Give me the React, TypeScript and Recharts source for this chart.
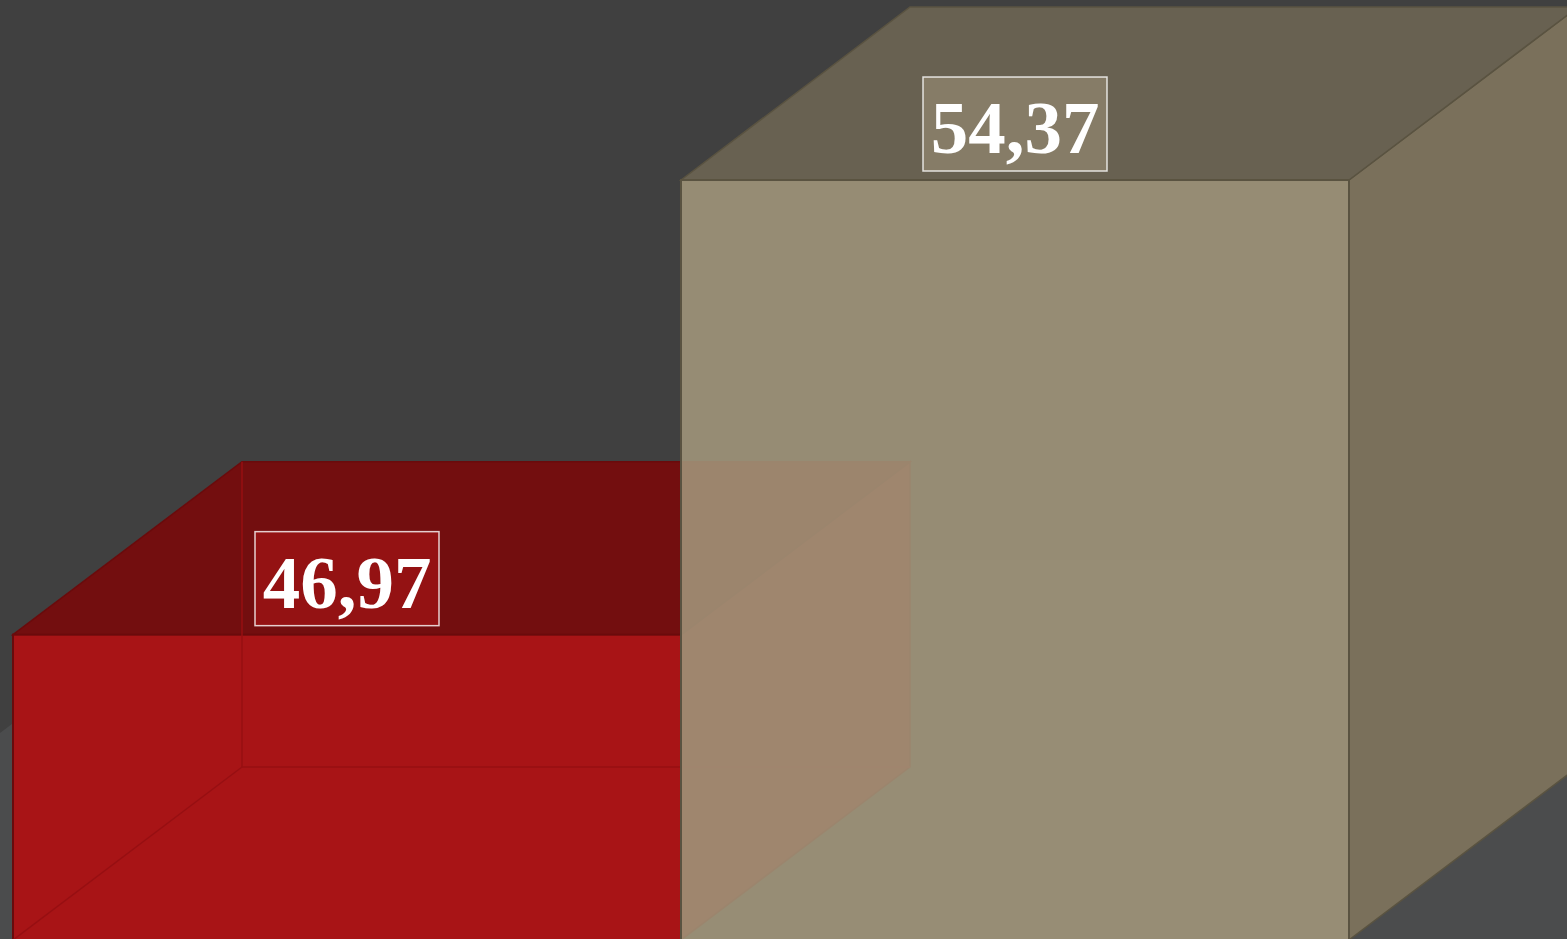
import { BarChart, Bar, XAxis, YAxis, LabelList } from "recharts";

// values
const categories = ["A", "B"];
const values = [46.97, 54.37];
const yDomain = [42, 57.3];

const data = categories.map((name, i) => ({ name, value: values[i] }));

const W = 1567;
const H = 939;
const DEPTH_X = 229;
const DEPTH_Y = -173;

const faces = [
    {
        front: "#a81416",
        top: "#730e0f",
        side: "#8c1012",
        edge: "#6a0b0c",
        hidden: "#970f12",
        frontOpacity: 1,
        label: "#a81416",
    },
    {
        front: "#a2967b",
        top: "#686151",
        side: "#7a705b",
        edge: "#5a5341",
        hidden: null,
        frontOpacity: 0.88,
        label: "#978c74",
    },
];

const Box3D = (props: any) => {
    const { x, y, width: w, height: h, index = 0 } = props;
    const f = faces[index % faces.length];
    const top = `${x},${y} ${x + DEPTH_X},${y + DEPTH_Y} ${x + w + DEPTH_X},${y + DEPTH_Y} ${x + w},${y}`;
    const side = `${x + w},${y} ${x + w + DEPTH_X},${y + DEPTH_Y} ${x + w + DEPTH_X},${y + h + DEPTH_Y} ${x + w},${y + h}`;
    const bx = x + DEPTH_X;
    const by = y + h + DEPTH_Y;

    return (
        <g>
            <polygon points={side} fill={f.side} stroke={f.edge} strokeWidth={1.5} />
            <polygon points={top} fill={f.top} stroke={f.edge} strokeWidth={1.5} />
            <rect
                x={x}
                y={y}
                width={w}
                height={h}
                fill={f.front}
                fillOpacity={f.frontOpacity}
                stroke={f.edge}
                strokeWidth={2}
            />
            {f.hidden && (
                <g stroke={f.hidden} strokeWidth={1.5} fill="none">
                    <line x1={bx} y1={y + DEPTH_Y} x2={bx} y2={by} />
                    <line x1={bx} y1={by} x2={bx + w} y2={by} />
                    <line x1={bx} y1={by} x2={x} y2={y + h} />
                </g>
            )}
        </g>
    );
};

const BoxLabel = (props: any) => {
    const { x, y, width, value, index = 0 } = props;
    const f = faces[index % faces.length];
    const cx = x + width / 2;
    const text = Number(value).toFixed(2).replace(".", ",");
    const boxW = 184;
    const boxH = 94;
    const bottom = y - 9;

    return (
        <g>
            <rect
                x={cx - boxW / 2}
                y={bottom - boxH}
                width={boxW}
                height={boxH}
                fill={f.label}
                fillOpacity={0.64}
                stroke="rgba(255,255,255,0.8)"
                strokeWidth={1.5}
            />
            <text
                x={cx}
                y={bottom - 18}
                textAnchor="middle"
                fill="#ffffff"
                fontFamily='"Liberation Serif", "Times New Roman", serif'
                fontWeight="bold"
                fontSize={75}
            >
                {text}
            </text>
        </g>
    );
};

export default function App() {
    return (
        <div
            style={{
                position: "fixed",
                left: 0,
                top: 0,
                width: W,
                height: H,
                overflow: "hidden",
                background: "#404040",
            }}
        >
            {/* floor plane */}
            <svg
                width={W}
                height={H}
                style={{ position: "absolute", left: 0, top: 0 }}
            >
                <polygon
                    points={`-400,1035 229,560 2000,560 2000,1035`}
                    fill="#4b4c4d"
                />
            </svg>
            <div style={{ position: "absolute", left: 0, top: 0 }}>
                <BarChart
                    width={W}
                    height={940}
                    data={data}
                    margin={{ top: 0, right: 218, bottom: 0, left: 13 }}
                    barCategoryGap={0}
                >
                    <XAxis dataKey="name" hide />
                    <YAxis type="number" domain={yDomain} hide />
                    <Bar
                        dataKey="value"
                        isAnimationActive={false}
                        shape={(p: any) => <Box3D {...p} />}
                    >
                        <LabelList dataKey="value" content={(p: any) => <BoxLabel {...p} />} />
                    </Bar>
                </BarChart>
            </div>
        </div>
    );
}
